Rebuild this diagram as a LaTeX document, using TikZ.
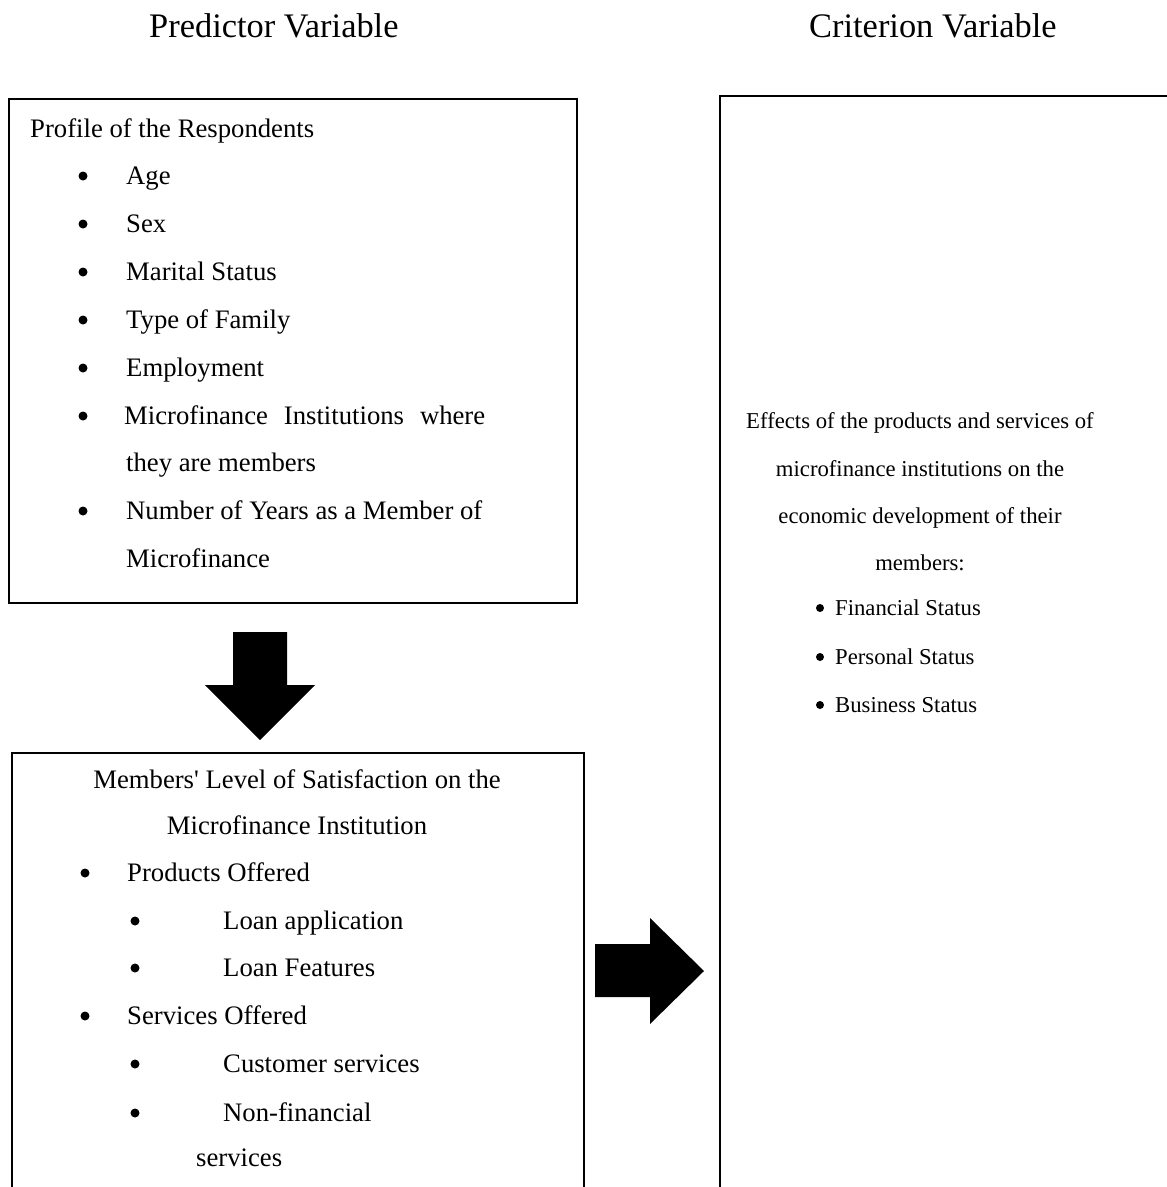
\documentclass[tikz,border=0pt]{standalone}
\usepackage{fontspec}
\newfontfamily\tnr{Liberation Serif}
\newcommand\bodyfont{\tnr\fontsize{26.7}{32}\selectfont}
\newcommand\rfont{\tnr\fontsize{22.7}{28}\selectfont}
\newcommand\hfont{\tnr\fontsize{34.4}{40}\selectfont}
\begin{document}
\begin{tikzpicture}[x=1pt,y=-1pt,
  box/.style={draw=black, line width=2.4pt, anchor=north west, inner sep=0pt},
  txt/.style={anchor=base west, inner sep=0pt, font=\bodyfont},
  ctxt/.style={anchor=base, inner sep=0pt, font=\bodyfont},
  bul/.style={circle, fill=black, inner sep=0pt, minimum size=9pt},
  rtxt/.style={anchor=base west, inner sep=0pt, font=\rfont},
  rctxt/.style={anchor=base, inner sep=0pt, font=\rfont},
  rbul/.style={circle, fill=black, inner sep=0pt, minimum size=8pt},
  hdr/.style={anchor=base west, inner sep=0pt, font=\hfont},
  blockarrow/.style={fill=black, draw=none}]
\useasboundingbox (0,0) rectangle (1167,1187);
\clip (0,0) rectangle (1167,1187);
\fill[white] (0,0) rectangle (1167,1187);

% headers
\node[hdr] (hpred) at (149,37) {Predictor Variable};
\node[hdr] (hcrit) at (809,37) {Criterion Variable};

% boxes
\node[box, minimum width=568pt, minimum height=504pt] (profile) at (8,98) {};
\node[box, minimum width=572pt, minimum height=520pt] (satis) at (11,752) {};
\node[box, minimum width=520pt, minimum height=1160pt] (effects) at (719,95) {};

% box 1 text
\node[txt] (p0) at (30,137) {Profile of the Respondents};
\foreach \y/\t [count=\i] in {184/Age, 232/Sex, 280/Marital Status, 328/Type of Family, 376/Employment}{
  \node[bul] (pb\i) at (83,\y-8) {};
  \node[txt] (pt\i) at (126,\y) {\t};
}
\node[bul] (pb6) at (83,416) {};
\node[txt] (pt6) at (124,424) {\makebox[361pt][s]{Microfinance Institutions where}};
\node[txt] (pt6b) at (126,471) {they are members};
\node[bul] (pb7) at (83,511) {};
\node[txt] (pt7) at (126,519) {Number of Years as a Member of};
\node[txt] (pt7b) at (126,567) {Microfinance};

% box 2 text
\node[ctxt] (s0) at (297,788) {Members\textquotesingle{} Level of Satisfaction on the};
\node[ctxt] (s0b) at (297,834) {Microfinance Institution};
\node[bul] (sb1) at (85,873) {};
\node[txt] (st1) at (127,881) {Products Offered};
\node[bul] (sb2) at (135,921) {};
\node[txt] (st2) at (223,929) {Loan application};
\node[bul] (sb3) at (135,968) {};
\node[txt] (st3) at (223,976) {Loan Features};
\node[bul] (sb4) at (85,1016) {};
\node[txt] (st4) at (127,1024) {Services Offered};
\node[bul] (sb5) at (135,1064) {};
\node[txt] (st5) at (223,1072) {Customer services};
\node[bul] (sb6) at (135,1113) {};
\node[txt] (st6) at (223,1121) {Non-financial};
\node[txt] (st6b) at (196,1166) {services};

% right box text
\node[rctxt] (e1) at (920,428) {Effects of the products and services of};
\node[rctxt] (e2) at (920,476) {microfinance institutions on the};
\node[rctxt] (e3) at (920,523) {economic development of their};
\node[rctxt] (e4) at (920,570) {members:};
\foreach \y/\t [count=\i] in {615/Financial Status, 664/Personal Status, 712/Business Status}{
  \node[rbul] (eb\i) at (820,\y-7) {};
  \node[rtxt] (et\i) at (835,\y) {\t};
}

% block arrows
\fill[blockarrow] (233,632) -- (287,632) -- (287,685) -- (315,685) -- (260,740) -- (205,685) -- (233,685) -- cycle;
\fill[blockarrow] (595,944) -- (650,944) -- (650,918) -- (704,971) -- (650,1024) -- (650,997) -- (595,997) -- cycle;
\end{tikzpicture}
\end{document}
